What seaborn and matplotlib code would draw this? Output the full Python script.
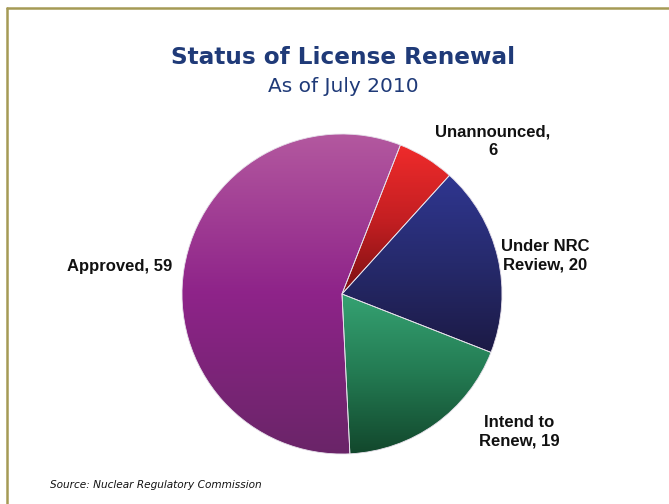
import numpy as np
import seaborn as sns
import matplotlib.pyplot as plt
from matplotlib.colors import LinearSegmentedColormap
from matplotlib.lines import Line2D

# data, clockwise from the top-right
status = ["Unannounced", "Under NRC Review", "Intend to Renew", "Approved"]
plants = [6, 20, 19, 59]
label_text = ["Unannounced,\n6", "Under NRC\nReview, 20", "Intend to\nRenew, 19", "Approved, 59"]

# top -> bottom gradient stops for each slice
grad_colors = [
    ["#ef2b2b", "#c41f22", "#7a1012"],
    ["#2f3690", "#262a6c", "#1c1a45"],
    ["#35a272", "#237a52", "#12472c"],
    ["#b3589f", "#8e2389", "#6a2568"],
]

sns.set_theme(style="white")
plt.rcParams['font.family'] = ['Liberation Sans', 'DejaVu Sans']

fig = plt.figure(figsize=(6.69, 5.04), dpi=100)
fig.patch.set_facecolor("white")

W, H = 669, 504
cx, cy, r = 342, 294, 160
ax = fig.add_axes([(cx - r) / W, (H - cy - r) / H, 2 * r / W, 2 * r / H])
ax.set_xlim(-1, 1)
ax.set_ylim(-1, 1)
ax.set_aspect("equal")
ax.axis("off")

wedges, _ = ax.pie(plants, startangle=68.6, counterclock=False, radius=1,
                   wedgeprops=dict(edgecolor="#e6e0ea", linewidth=0.6))

for w, cols in zip(wedges, grad_colors):
    ext = w.get_path().get_extents()
    cmap = LinearSegmentedColormap.from_list("g", cols)
    grad = np.linspace(0, 1, 256).reshape(-1, 1)
    im = ax.imshow(grad, cmap=cmap, aspect="auto", origin="upper",
                   extent=[ext.x0, ext.x1, ext.y0, ext.y1], zorder=1)
    im.set_clip_path(w)
    w.set_facecolor("none")
    w.set_zorder(3)
ax.set_xlim(-1, 1)
ax.set_ylim(-1, 1)

# slice labels (pixel positions converted to data units)
label_px = [(493, 141), (545, 256), (519, 432), (120, 266)]
for txt, (px, py) in zip(label_text, label_px):
    ax.text((px - cx) / r, (cy - py) / r, txt, ha="center", va="center",
            fontsize=12, fontweight="bold", color="#111111",
            linespacing=1.3, clip_on=False)

fig.text(343 / W, 1 - 58 / H, "Status of License Renewal", ha="center", va="center",
         fontsize=16.7, fontweight="bold", color="#1f3a78", family="DejaVu Sans")
fig.text(343 / W, 1 - 87 / H, "As of July 2010", ha="center", va="center",
         fontsize=14.5, color="#1f3a78", family="DejaVu Sans")
fig.text(50 / W, 1 - 485 / H, "Source: Nuclear Regulatory Commission", ha="left", va="center",
         fontsize=7.6, style="italic", color="#111111", family="DejaVu Sans")

# olive frame on top and left
fig.add_artist(Line2D([7 / W, 1], [1 - 8 / H, 1 - 8 / H], color="#a59a55", lw=1.8))
fig.add_artist(Line2D([7 / W, 7 / W], [0, 1 - 8 / H], color="#a59a55", lw=1.8))

fig.savefig("out.png", dpi=100)
